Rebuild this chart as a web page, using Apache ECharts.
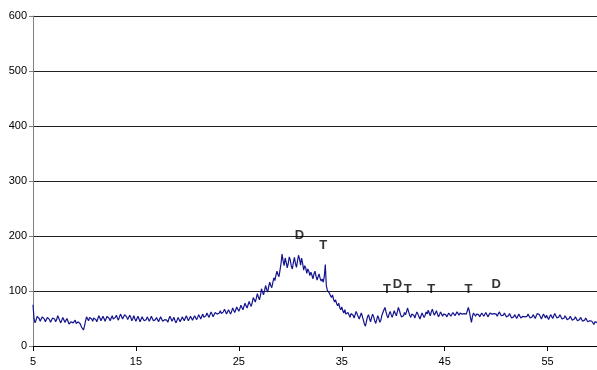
<!DOCTYPE html>
<html>
<head>
<meta charset="utf-8">
<script src="https://cdn.jsdelivr.net/npm/echarts@6/dist/echarts.min.js"></script>
<style>
  html, body { margin: 0; padding: 0; background: #fff; }
  #chart { width: 597px; height: 370px; }
</style>
</head>
<body>
<div id="chart"></div>
<script>
// 2-theta scan, one reading every 0.1 degree starting at 5
const startAngle = 5;
const stepAngle = 0.1;
const intensity = [
  75, 50, 42, 47, 54, 56, 50, 45, 48, 53,
  55, 49, 44, 47, 52, 54, 48, 43, 46, 51,
  53, 49, 44, 48, 55, 51, 46, 42, 47, 52,
  49, 43, 46, 50, 47, 40, 38, 44, 46, 42,
  45, 47, 41, 38, 44, 46, 40, 35, 32, 29,
  36, 45, 53, 50, 46, 52, 55, 49, 45, 51,
  54, 48, 44, 50, 55, 51, 46, 49, 54, 50,
  45, 48, 54, 56, 50, 46, 51, 55, 49, 47,
  52, 56, 51, 47, 53, 58, 54, 49, 52, 57,
  60, 53, 48, 51, 56, 52, 46, 50, 55, 49,
  45, 50, 54, 49, 44, 47, 53, 51, 46, 43,
  48, 53, 50, 45, 49, 54, 51, 46, 43, 48,
  52, 48, 44, 47, 53, 50, 45, 42, 48, 51,
  47, 43, 49, 54, 50, 45, 48, 52, 46, 42,
  47, 52, 49, 44, 48, 53, 50, 46, 51, 55,
  50, 46, 49, 54, 51, 47, 50, 55, 52, 48,
  52, 57, 53, 49, 54, 58, 52, 50, 55, 60,
  56, 52, 57, 62, 58, 53, 56, 61, 64, 58,
  55, 60, 64, 59, 56, 62, 67, 63, 58, 61,
  66, 62, 58, 63, 69, 65, 61, 66, 71, 67,
  63, 68, 74, 70, 66, 72, 78, 73, 69, 75,
  81, 76, 72, 79, 88, 84, 80, 87, 95, 89,
  84, 92, 104, 98, 93, 101, 110, 103, 98, 108,
  116, 110, 106, 115, 124, 119, 128, 136, 130, 126,
  138, 150, 167, 155, 146, 160, 152, 142, 150, 162,
  156, 145, 140, 152, 161, 150, 143, 155, 165, 158,
  147, 160, 150, 138, 146, 142, 132, 140, 136, 128,
  134, 129, 122, 131, 136, 127, 120, 126, 131, 123,
  118, 122, 116, 126, 148, 110, 101, 104, 96, 92,
  88, 93, 85, 80, 84, 77, 73, 78, 70, 66,
  71, 64, 60, 66, 58, 55, 61, 57, 52, 59,
  62, 56, 51, 57, 63, 58, 53, 49, 55, 60,
  54, 47, 40, 36, 45, 53, 57, 50, 44, 52,
  58, 53, 46, 41, 48, 55, 50, 43, 47, 56,
  61, 66, 70, 62, 55, 51, 58, 63, 57, 52,
  58, 64, 59, 55, 62, 70, 65, 58, 53, 50,
  55, 61, 57, 63, 69, 62, 56, 52, 58, 61,
  56, 51, 57, 62, 58, 53, 49, 55, 60, 57,
  52, 56, 62, 58, 65, 60, 55, 62, 67, 61,
  56, 60, 64, 58, 53, 57, 62, 59, 54, 58,
  61, 57, 53, 56, 60, 58, 54, 57, 61, 59,
  55, 58, 62, 59, 56, 60, 63, 58, 55, 59,
  62, 58, 64, 70, 63, 52, 43, 54, 60, 57,
  54, 58, 61, 57, 53, 56, 60, 58, 54, 57,
  61, 57, 53, 56, 60, 63, 58, 55, 59, 62,
  58, 54, 57, 62, 59, 55, 52, 56, 60, 57,
  53, 50, 55, 59, 55, 51, 48, 53, 57, 54,
  50, 53, 58, 55, 51, 49, 54, 57, 53, 50,
  54, 58, 55, 51, 48, 53, 57, 54, 50, 55,
  59, 62, 57, 53, 49, 54, 58, 55, 51, 56,
  52, 48, 53, 57, 54, 50, 55, 59, 55, 51,
  48, 53, 57, 54, 49, 46, 51, 55, 52, 48,
  45, 50, 54, 51, 47, 44, 49, 53, 50, 46,
  43, 48, 52, 49, 45, 42, 47, 51, 48, 44,
  41, 46, 49, 45, 42, 39, 44, 47, 43, 40
];

// phase markers (D / T) written over the peaks
const markerText = ["D", "T", "T", "D", "T", "T", "T", "D"];
const markerAngle = [30.9, 33.2, 39.4, 40.4, 41.4, 43.7, 47.3, 50.0];
const markerHeight = [201, 183, 103, 112, 103, 103, 103, 112];

const scan = intensity.map((v, i) => [+(startAngle + i * stepAngle).toFixed(1), v]);
const markers = markerText.map((t, i) => ({ value: [markerAngle[i], markerHeight[i]], name: t }));

const chart = echarts.init(document.getElementById("chart"));
chart.setOption({
  animation: false,
  backgroundColor: "#fff",
  grid: { left: 33, right: 0, top: 16, bottom: 24 },
  xAxis: {
    type: "value",
    min: 5,
    max: 59.8,
    interval: 10,
    axisLine: { onZero: false, lineStyle: { color: "#000", width: 1 } },
    axisTick: { length: 5, lineStyle: { color: "#000" } },
    axisLabel: {
      showMaxLabel: false,
      margin: 10,
      color: "#000",
      fontFamily: "Liberation Sans",
      fontSize: 11
    },
    splitLine: { show: false }
  },
  yAxis: {
    type: "value",
    min: 0,
    max: 600,
    interval: 100,
    axisLine: { show: true, lineStyle: { color: "#808080", width: 1 } },
    axisTick: { show: true, length: 4, lineStyle: { color: "#808080" } },
    axisLabel: {
      margin: 6,
      color: "#000",
      fontFamily: "Liberation Sans",
      fontSize: 11
    },
    splitLine: { lineStyle: { color: "#222", width: 1 } }
  },
  series: [
    {
      type: "line",
      data: scan,
      showSymbol: false,
      lineStyle: { color: "#14148f", width: 1.2 },
      z: 3
    },
    {
      type: "scatter",
      data: markers,
      symbolSize: 1,
      itemStyle: { color: "transparent" },
      label: {
        show: true,
        position: "inside",
        formatter: (p) => p.name,
        color: "#000",
        fontFamily: "Liberation Sans",
        fontWeight: "bold",
        fontSize: 13
      },
      z: 4
    }
  ]
});
</script>
</body>
</html>
